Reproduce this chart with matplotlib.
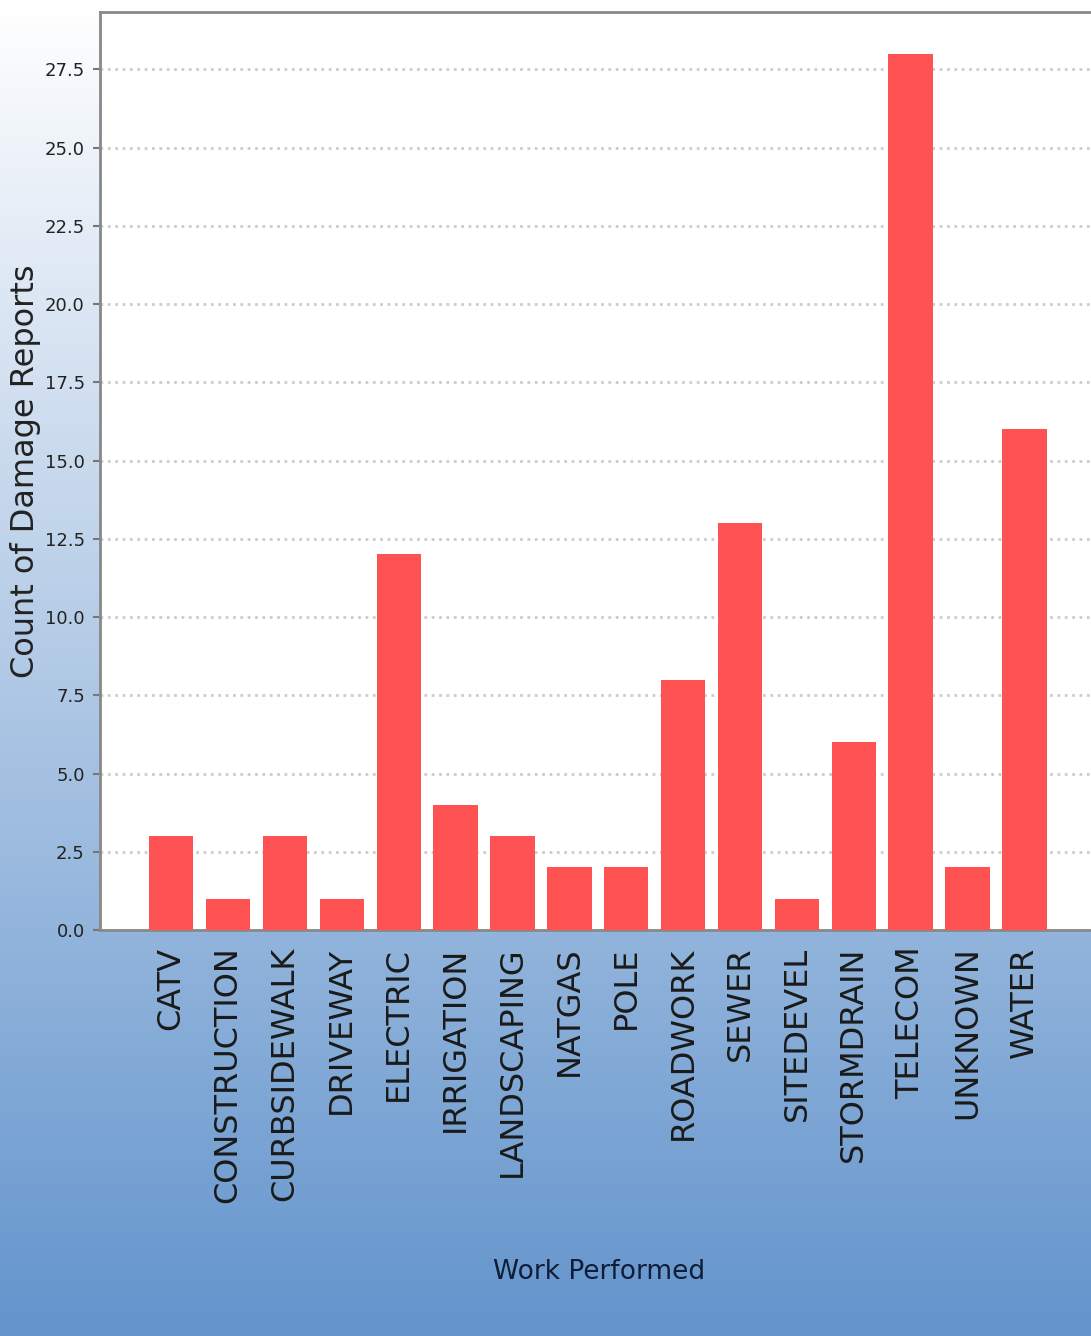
import numpy as np
from matplotlib import pyplot as plt
from matplotlib.colors import LinearSegmentedColormap

# damage report counts by type of work performed
work_types = ['CATV', 'CONSTRUCTION', 'CURBSIDEWALK', 'DRIVEWAY', 'ELECTRIC',
              'IRRIGATION', 'LANDSCAPING', 'NATGAS', 'POLE', 'ROADWORK',
              'SEWER', 'SITEDEVEL', 'STORMDRAIN', 'TELECOM', 'UNKNOWN', 'WATER']
report_counts = [3, 1, 3, 1, 12, 4, 3, 2, 2, 8, 13, 1, 6, 28, 2, 16]
y_ticks = [0.0, 2.5, 5.0, 7.5, 10.0, 12.5, 15.0, 17.5, 20.0, 22.5, 25.0, 27.5]

fig = plt.figure(figsize=(10.91, 13.36), dpi=100)

# background gradient, white on top to blue at the bottom
bg = fig.add_axes([0, 0, 1, 1], zorder=-10)
cmap = LinearSegmentedColormap.from_list('bg', ['#ffffff', '#6394cc'])
grad = np.linspace(0, 1, 256).reshape(-1, 1)
bg.imshow(grad, aspect='auto', cmap=cmap, extent=[0, 1, 0, 1], origin='upper')
bg.axis('off')

ax = fig.add_axes([0.0917, 0.3039, 0.9083, 0.6871])
ax.set_facecolor('white')
x = np.arange(len(work_types))
ax.bar(x, report_counts, width=0.78, color='#ff5353', zorder=3)

ax.set_xlim(-1.25, 16.17)
ax.set_ylim(0, 29.33)
ax.set_yticks(y_ticks)
ax.set_yticklabels([f'{v:.1f}' for v in y_ticks], fontsize=13, color='#222222')
ax.set_xticks(x)
ax.set_xticklabels(work_types, rotation=90, fontsize=23, color='#1a1a1a',
                   va='top', ha='center')
ax.tick_params(axis='x', length=0, pad=12)
ax.tick_params(axis='y', length=5, width=1.5, color='#777777', pad=6)

ax.grid(axis='y', linestyle=':', linewidth=2, color='#cccccc', zorder=0)
ax.set_axisbelow(True)

for side in ['top', 'left', 'bottom']:
    ax.spines[side].set_color('#888888')
    ax.spines[side].set_linewidth(2)
ax.spines['right'].set_visible(False)

ax.set_ylabel('Count of Damage Reports', fontsize=23, color='#222222', va='center')
ax.yaxis.set_label_coords(-0.075, 0.5)
ax.set_xlabel('Work Performed', fontsize=19, color='#101c38', va='center')
ax.xaxis.set_label_coords(0.504, -0.3725)

fig.savefig('out.png', dpi=100)
